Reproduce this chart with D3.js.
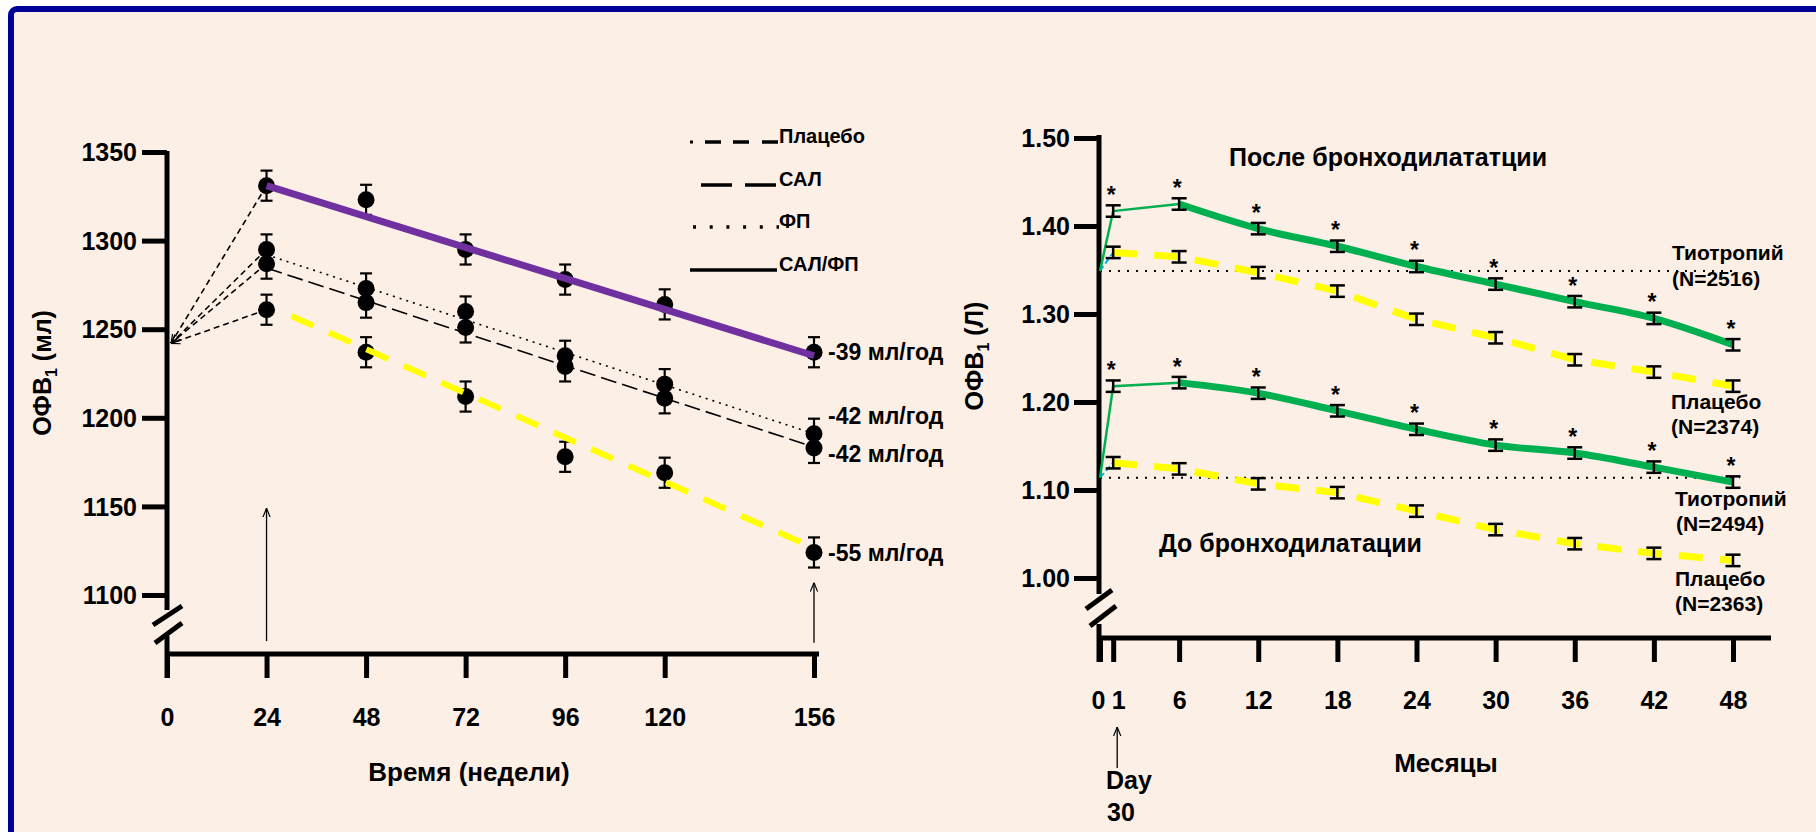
<!DOCTYPE html>
<html lang="ru">
<head>
<meta charset="UTF-8">
<title>ОФВ1</title>
<script src="https://d3js.org/d3.v7.min.js"></script>
<style>
    html, body { margin: 0; padding: 0; background: #fff; }
    svg text { font-family: "Liberation Sans", Arial, sans-serif; font-weight: bold; fill: #000; }
</style>
</head>
<body>
<div id="vis"></div>
<script>
// ---- left panel data (ОФВ1, мл) ----
var weeks = [24, 48, 72, 96, 120, 156];
var weekTicks = [0, 24, 48, 72, 96, 120, 156];
var mlTicks = [1100, 1150, 1200, 1250, 1300, 1350];
var salfp = [1331, 1323, 1295, 1278, 1264, 1237];
var fp = [1295, 1273, 1260, 1235, 1219, 1191];
var sal = [1287, 1265, 1251, 1229, 1211, 1183];
var placebo = [1261, 1237, 1212, 1178, 1169, 1124];
var errMl = 8.5;
var baselineMl = 1242;
// regression lines [week, value]
var salfpFit = [[24, 1331], [156, 1235]];
var fpFit = [[24, 1292], [156, 1191]];
var salFit = [[24, 1284.5], [156, 1183.5]];
var placeboFit = [[30, 1257.5], [156, 1126.5]];
var slopeLabels = ["-39 мл/год", "-42 мл/год", "-42 мл/год", "-55 мл/год"];
var slopeLabelY = [1237, 1201, 1179.5, 1124];
var legendNames = ["Плацебо", "САЛ", "ФП", "САЛ/ФП"];

// ---- right panel data (ОФВ1, Л) ----
var months = [1, 6, 12, 18, 24, 30, 36, 42, 48];
var monthTicks = [0, 1, 6, 12, 18, 24, 30, 36, 42, 48];
var litreTicks = [1.0, 1.1, 1.2, 1.3, 1.4, 1.5];
var postTio = [1.417, 1.425, 1.397, 1.377, 1.354, 1.334, 1.314, 1.295, 1.265];
var postPlc = [1.370, 1.365, 1.347, 1.326, 1.294, 1.273, 1.248, 1.234, 1.218];
var preTio = [1.218, 1.222, 1.210, 1.190, 1.169, 1.151, 1.142, 1.126, 1.109];
var prePlc = [1.131, 1.124, 1.107, 1.097, 1.076, 1.055, 1.039, 1.028, 1.020];
var postBase = 1.349;
var preBase = 1.114;
var errL = 0.0065;

var W = 1816, H = 832;
var svg = d3.select('#vis').append('svg')
    .attr('width', W).attr('height', H);

svg.append('defs').append('marker')
    .attr('id', 'arr').attr('viewBox', '0 0 10 10')
    .attr('refX', 10).attr('refY', 5)
    .attr('markerWidth', 9).attr('markerHeight', 9)
    .attr('markerUnits', 'userSpaceOnUse')
    .attr('orient', 'auto')
    .append('path').attr('d', 'M0,1 L10,5 L0,9')
    .attr('fill', 'none').attr('stroke', '#000').attr('stroke-width', 1.3);

// frame
svg.append('rect')
    .attr('x', 11).attr('y', 9).attr('width', W + 40).attr('height', H + 40)
    .attr('rx', 6)
    .attr('fill', '#fcefe6').attr('stroke', '#000099').attr('stroke-width', 6);

/* ===================== LEFT PANEL ===================== */
var xL = d3.scaleLinear().domain([0, 156]).range([167, 814]);
var yL = d3.scaleLinear().domain([1100, 1350]).range([595, 152]);
var gL = svg.append('g');

// y axis
var yAxL = gL.append('g').attr('transform', 'translate(167,0)')
    .call(d3.axisLeft(yL).tickValues(mlTicks).tickFormat(d3.format('d')).tickSize(25).tickSizeOuter(0));
yAxL.select('.domain').remove();
yAxL.selectAll('line').attr('stroke-width', 5);
yAxL.selectAll('text').style('font-size', '25px').attr('dy', '0.35em').attr('x', -30);
yAxL.attr('font-family', null);

// x axis
var xAxL = gL.append('g').attr('transform', 'translate(0,654)')
    .call(d3.axisBottom(xL).tickValues(weekTicks).tickSize(24).tickSizeOuter(0));
xAxL.select('.domain').remove();
xAxL.selectAll('line').attr('stroke-width', 5);
xAxL.selectAll('text').style('font-size', '25px').attr('y', 63).attr('dy', '0.35em');
xAxL.attr('font-family', null);

// axis lines with break
gL.append('line').attr('x1', 167).attr('x2', 167).attr('y1', yL(1350) - 1).attr('y2', 610)
    .attr('stroke', '#000').attr('stroke-width', 5);
gL.append('line').attr('x1', 167).attr('x2', 167).attr('y1', 636).attr('y2', 678)
    .attr('stroke', '#000').attr('stroke-width', 5);
gL.append('line').attr('x1', 165).attr('x2', xL(156) + 5).attr('y1', 654).attr('y2', 654)
    .attr('stroke', '#000').attr('stroke-width', 5);
[[153, 625, 182, 606], [155, 643, 182, 623]].forEach(function(s) {
    gL.append('line').attr('x1', s[0]).attr('y1', s[1]).attr('x2', s[2]).attr('y2', s[3])
        .attr('stroke', '#000').attr('stroke-width', 5);
});

// titles
gL.append('text').attr('transform', 'translate(51,373) rotate(-90)')
    .attr('text-anchor', 'middle').style('font-size', '25px')
    .html('ОФВ<tspan font-size="16px" dy="6">1</tspan><tspan dy="-6"> (мл)</tspan>');
gL.append('text').attr('x', 469).attr('y', 772).attr('dy', '0.35em')
    .attr('text-anchor', 'middle').style('font-size', '26px').text('Время (недели)');

// baseline arrows from week 24 to the y axis
[salfp[0], fp[0], sal[0], placebo[0]].forEach(function(v) {
    gL.append('line')
        .attr('x1', xL(24)).attr('y1', yL(v))
        .attr('x2', xL(0) + 4).attr('y2', yL(baselineMl))
        .attr('stroke', '#000').attr('stroke-width', 1.6)
        .attr('stroke-dasharray', '6,4')
        .attr('marker-end', 'url(#arr)');
});

// vertical arrows
[[24, 1074, 1149], [156, 1073, 1107]].forEach(function(a) {
    gL.append('line').attr('x1', xL(a[0])).attr('x2', xL(a[0]))
        .attr('y1', yL(a[1])).attr('y2', yL(a[2]))
        .attr('stroke', '#000').attr('stroke-width', 1.3)
        .attr('marker-end', 'url(#arr)');
});

// markers + error bars
var leftSeries = [salfp, fp, sal, placebo];
leftSeries.forEach(function(s) {
    s.forEach(function(v, i) {
        var x = xL(weeks[i]);
        gL.append('line').attr('x1', x).attr('x2', x).attr('y1', yL(v - errMl)).attr('y2', yL(v + errMl))
            .attr('stroke', '#000').attr('stroke-width', 2.2);
        [v - errMl, v + errMl].forEach(function(e) {
            gL.append('line').attr('x1', x - 6).attr('x2', x + 6).attr('y1', yL(e)).attr('y2', yL(e))
                .attr('stroke', '#000').attr('stroke-width', 2.2);
        });
        gL.append('circle').attr('cx', x).attr('cy', yL(v)).attr('r', 8.5).attr('fill', '#000');
    });
});

// regression lines
var lineL = d3.line().x(function(d) { return xL(d[0]); }).y(function(d) { return yL(d[1]); });
gL.append('path').attr('d', lineL(fpFit)).attr('fill', 'none')
    .attr('stroke', '#000').attr('stroke-width', 1.6).attr('stroke-dasharray', '2,5');
gL.append('path').attr('d', lineL(salFit)).attr('fill', 'none')
    .attr('stroke', '#000').attr('stroke-width', 1.6).attr('stroke-dasharray', '16,6');
gL.append('path').attr('d', lineL(placeboFit)).attr('fill', 'none')
    .attr('stroke', '#ffff00').attr('stroke-width', 6).attr('stroke-dasharray', '24,17');
gL.append('path').attr('d', lineL(salfpFit)).attr('fill', 'none')
    .attr('stroke', '#7030a0').attr('stroke-width', 7);

// slope labels
slopeLabels.forEach(function(t, i) {
    gL.append('text').attr('x', 828).attr('y', yL(slopeLabelY[i])).attr('dy', '0.35em')
        .style('font-size', '23px').text(t);
});

// legend
var legY = [142, 185, 227, 270];
legendNames.forEach(function(n, i) {
    var ly = legY[i];
    if (i === 0) {
        gL.append('rect').attr('x', 690).attr('y', ly - 1.5).attr('width', 3).attr('height', 3);
        [705, 733, 762].forEach(function(x0) {
            gL.append('line').attr('x1', x0).attr('x2', x0 + 16).attr('y1', ly).attr('y2', ly)
                .attr('stroke', '#000').attr('stroke-width', 3.5);
        });
    } else if (i === 1) {
        gL.append('line').attr('x1', 701).attr('x2', 777).attr('y1', ly).attr('y2', ly)
            .attr('stroke', '#000').attr('stroke-width', 3.5).attr('stroke-dasharray', '31,13');
    } else if (i === 2) {
        gL.append('line').attr('x1', 693).attr('x2', 779).attr('y1', ly).attr('y2', ly)
            .attr('stroke', '#000').attr('stroke-width', 3.5).attr('stroke-dasharray', '3,13.7');
    } else {
        gL.append('line').attr('x1', 690).attr('x2', 777).attr('y1', ly).attr('y2', ly)
            .attr('stroke', '#000').attr('stroke-width', 3.5);
    }
    gL.append('text').attr('x', 779).attr('y', ly - 6).attr('dy', '0.35em')
        .style('font-size', '20px').text(n);
});

/* ===================== RIGHT PANEL ===================== */
var xR = d3.scaleLinear().domain([0, 48]).range([1100, 1733]);
var yR = d3.scaleLinear().domain([1.0, 1.5]).range([578, 138]);
var gR = svg.append('g');

var yAxR = gR.append('g').attr('transform', 'translate(1099,0)')
    .call(d3.axisLeft(yR).tickValues(litreTicks).tickSize(25).tickSizeOuter(0).tickFormat(d3.format('.2f')));
yAxR.select('.domain').remove();
yAxR.selectAll('line').attr('stroke-width', 5);
yAxR.selectAll('text').style('font-size', '25px').attr('dy', '0.35em').attr('x', -29);
yAxR.attr('font-family', null);

var xAxR = gR.append('g').attr('transform', 'translate(0,638)')
    .call(d3.axisBottom(xR).tickValues(monthTicks).tickSize(24).tickSizeOuter(0));
xAxR.select('.domain').remove();
xAxR.selectAll('line').attr('stroke-width', 5);
xAxR.selectAll('text').style('font-size', '25px').attr('y', 62).attr('dy', '0.35em')
    .attr('x', function(d) { return d === 0 ? -2 : (d === 1 ? 5 : 0); });
xAxR.attr('font-family', null);

gR.append('line').attr('x1', 1099).attr('x2', 1099).attr('y1', yR(1.5) - 3).attr('y2', 594)
    .attr('stroke', '#000').attr('stroke-width', 5);
gR.append('line').attr('x1', 1099).attr('x2', 1099).attr('y1', 624).attr('y2', 662)
    .attr('stroke', '#000').attr('stroke-width', 5);
gR.append('line').attr('x1', 1097).attr('x2', 1771).attr('y1', 638).attr('y2', 638)
    .attr('stroke', '#000').attr('stroke-width', 5);
[[1086, 609, 1112, 590], [1090, 626, 1116, 606]].forEach(function(s) {
    gR.append('line').attr('x1', s[0]).attr('y1', s[1]).attr('x2', s[2]).attr('y2', s[3])
        .attr('stroke', '#000').attr('stroke-width', 5);
});

gR.append('text').attr('transform', 'translate(983,356) rotate(-90)')
    .attr('text-anchor', 'middle').style('font-size', '25px')
    .html('ОФВ<tspan font-size="16px" dy="6">1</tspan><tspan dy="-6"> (Л)</tspan>');
gR.append('text').attr('x', 1446).attr('y', 763).attr('dy', '0.35em')
    .attr('text-anchor', 'middle').style('font-size', '26px').text('Месяцы');

// Day 30 arrow
gR.append('line').attr('x1', xR(1) + 4).attr('x2', xR(1) + 4).attr('y1', 768).attr('y2', 727)
    .attr('stroke', '#000').attr('stroke-width', 1.3).attr('marker-end', 'url(#arr)');
gR.append('text').attr('x', 1106).attr('y', 780).attr('dy', '0.35em').style('font-size', '25px').text('Day');
gR.append('text').attr('x', 1107).attr('y', 812).attr('dy', '0.35em').style('font-size', '25px').text('30');

// dotted reference lines
[[postBase, 48], [preBase, 48.5]].forEach(function(r) {
    gR.append('line').attr('x1', xR(0)).attr('x2', xR(r[1])).attr('y1', yR(r[0])).attr('y2', yR(r[0]))
        .attr('stroke', '#000').attr('stroke-width', 2).attr('stroke-dasharray', '2,7');
});

var lineR = d3.line().x(function(d) { return xR(d[0]); }).y(function(d) { return yR(d[1]); });
var smoothR = d3.line().curve(d3.curveMonotoneX)
    .x(function(d) { return xR(d[0]); }).y(function(d) { return yR(d[1]); });

function pairs(vals) { return vals.map(function(v, i) { return [months[i], v]; }); }

[[postPlc, postBase], [prePlc, preBase]].forEach(function(p) {
    var pts = pairs(p[0]);
    gR.append('path').attr('d', lineR([[0, p[1]], pts[0]])).attr('fill', 'none')
        .attr('stroke', '#00b0f0').attr('stroke-width', 2).attr('stroke-dasharray', '6,3');
    gR.append('path').attr('d', lineR(pts)).attr('fill', 'none')
        .attr('stroke', '#ffff00').attr('stroke-width', 7).attr('stroke-dasharray', '24,17');
});
[[postTio, postBase], [preTio, preBase]].forEach(function(p) {
    var pts = pairs(p[0]);
    gR.append('path').attr('d', lineR([[0, p[1]], pts[0], pts[1]])).attr('fill', 'none')
        .attr('stroke', '#00b050').attr('stroke-width', 2.5);
    gR.append('path').attr('d', smoothR(pts.slice(1))).attr('fill', 'none')
        .attr('stroke', '#00b050').attr('stroke-width', 7);
});

// error bars
[postTio, postPlc, preTio, prePlc].forEach(function(s, k) {
    s.forEach(function(v, i) {
        var x = xR(months[i]);
        gR.append('line').attr('x1', x).attr('x2', x).attr('y1', yR(v - errL)).attr('y2', yR(v + errL))
            .attr('stroke', '#000').attr('stroke-width', 2.5);
        [v - errL, v + errL].forEach(function(e) {
            gR.append('line').attr('x1', x - 7.5).attr('x2', x + 7.5).attr('y1', yR(e)).attr('y2', yR(e))
                .attr('stroke', '#000').attr('stroke-width', 2.5);
        });
        if (k === 0 || k === 2) {
            gR.append('text').attr('x', x - 2).attr('y', yR(v) - 8).attr('text-anchor', 'middle')
                .style('font-size', '23px').text('*');
        }
    });
});

// labels
gR.append('text').attr('x', 1229).attr('y', 157).attr('dy', '0.35em').style('font-size', '25px').text('После бронходилататции');
gR.append('text').attr('x', 1159).attr('y', 543).attr('dy', '0.35em').style('font-size', '25px').text('До бронходилатации');
[['Тиотропий', 1672, 253], ['(N=2516)', 1672, 279], ['Плацебо', 1671, 402], ['(N=2374)', 1671, 427],
 ['Тиотропий', 1675, 499], ['(N=2494)', 1676, 524], ['Плацебо', 1675, 579], ['(N=2363)', 1675, 604]]
    .forEach(function(t) {
        gR.append('text').attr('x', t[1]).attr('y', t[2]).attr('dy', '0.35em')
            .style('font-size', '21px').text(t[0]);
    });
</script>
</body>
</html>
